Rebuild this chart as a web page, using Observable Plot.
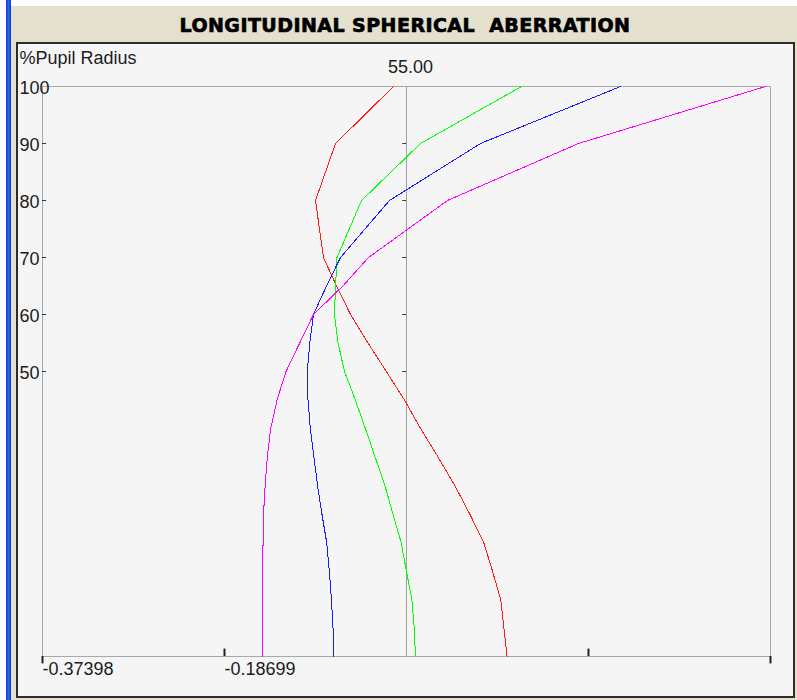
<!DOCTYPE html>
<html>
<head>
<meta charset="utf-8">
<script src="https://cdn.jsdelivr.net/npm/d3@7"></script>
<script src="https://cdn.jsdelivr.net/npm/@observablehq/plot@0.6"></script>
<style>
  html, body { margin: 0; padding: 0; background: #ffffff; }
  #page { position: relative; width: 797px; height: 700px; overflow: hidden; background: #ffffff; }
  #beige { position: absolute; left: 11px; top: 6px; right: 0; bottom: 0; background: #e3e0cd; }
  #bluebar { position: absolute; left: 6px; top: 0; width: 5px; height: 700px;
    background: linear-gradient(to right, #0a36c8, #2f62f2, #0b3ad8); }
  #title { position: absolute; left: 12px; width: 786px; top: 16px; text-align: center;
    font-family: "DejaVu Sans", sans-serif; font-weight: bold; font-size: 19px; line-height: 19px;
    letter-spacing: 0.45px; color: #000; white-space: pre; -webkit-text-stroke: 0.7px #000; }
  #box { position: absolute; left: 16px; top: 42px; width: 775px; height: 652px;
    border: 2px solid #2c2c2c; background: #f5f5f5; }
  #box svg { position: absolute; left: 0; top: 0; overflow: visible; }
</style>
</head>
<body>
<div id="page">
  <div id="beige"></div>
  <div id="bluebar"></div>
  <div id="title">LONGITUDINAL SPHERICAL  ABERRATION</div>
  <div id="box"></div>
</div>
<script>
// % pupil radius (shared by all series)
const pupil = [0, 5, 10, 15, 20, 25, 30, 35, 40, 45, 50, 55, 60, 65, 70, 80, 90, 100];
// longitudinal aberration per wavelength
const red     = [0.1033, 0.1001, 0.0968, 0.0883, 0.0793, 0.0650, 0.0496, 0.0324, 0.0144, -0.0021, -0.0207, -0.0396, -0.0575, -0.0719, -0.0853, -0.0935, -0.0729, -0.0134];
const green   = [0.0092, 0.0080, 0.0055, -0.0001, -0.0055, -0.0139, -0.0222, -0.0322, -0.0423, -0.0526, -0.0637, -0.0703, -0.0740, -0.0729, -0.0714, -0.0462, 0.0144, 0.1181];
const blue    = [-0.0750, -0.0755, -0.0771, -0.0793, -0.0820, -0.0869, -0.0914, -0.0951, -0.0988, -0.1012, -0.1019, -0.0994, -0.0956, -0.0822, -0.0678, -0.0175, 0.0760, 0.2199];
const magenta = [-0.1479, -0.1479, -0.1477, -0.1476, -0.1474, -0.1469, -0.1452, -0.1430, -0.1395, -0.1330, -0.1238, -0.1097, -0.0956, -0.0654, -0.0390, 0.0421, 0.1767, 0.3688];

const seriesNames  = ["wave1", "wave2", "wave3", "wave4"];
const seriesColors = ["#ff1a1a", "#00ff00", "#1a1aff", "#ff00ff"];
const seriesValues = [red, green, blue, magenta];

const xMax = 0.37398;
const xEndTicks = [-0.37398, 0.37398];
const xInnerTicks = [-0.18699, 0.18699];
const xLabelValues = [-0.37398, -0.18699];
const xLabelTexts = ["-0.37398", "-0.18699"];
const yLabelValues = [100, 90, 80, 70, 60, 50];
const yTickValues = [90, 80, 70, 60, 50];
const centerLabel = "55.00";
const yTitle = "%Pupil Radius";

const rows = [];
seriesValues.forEach((vals, i) => {
  vals.forEach((v, j) => rows.push({series: seriesNames[i], x: v, y: pupil[j]}));
});

const font = '"Liberation Sans", Arial, sans-serif';

const chart = Plot.plot({
  width: 775,
  height: 652,
  marginLeft: 24,
  marginRight: 23,
  marginTop: 42,
  marginBottom: 40,
  x: {domain: [-xMax, xMax], axis: null},
  y: {domain: [0, 100], axis: null},
  color: {type: "ordinal", domain: seriesNames, range: seriesColors},
  style: {background: "transparent", fontFamily: font, overflow: "visible"},
  marks: [
    Plot.frame({stroke: "#a8a8a8", strokeWidth: 1}),
    Plot.ruleX([0], {stroke: "#a0a0a0", strokeWidth: 1}),
    // ticks on left axis (inward)
    Plot.ruleY(yTickValues, {y: d => d, x1: -xMax, x2: -xMax + 0.0042, stroke: "#333", strokeWidth: 1}),
    // ticks on center line (to the left)
    Plot.ruleY(yTickValues, {y: d => d, x1: -0.0038, x2: 0, stroke: "#333", strokeWidth: 1}),
    // bottom ticks
    Plot.ruleX(xInnerTicks, {x: d => d, y1: 0, y2: 1.3, stroke: "#222", strokeWidth: 2}),
    Plot.ruleX(xEndTicks, {x: d => d, y1: 0, y2: -1.3, stroke: "#222", strokeWidth: 2, clip: false}),
    Plot.line(rows, {x: "x", y: "y", z: "series", stroke: "series", strokeWidth: 1, curve: "linear",
      shapeRendering: "crispEdges"}),
    Plot.text(yLabelValues, {y: d => d, text: d => String(d), frameAnchor: "left", dx: -23, dy: 1.5,
      textAnchor: "start", lineAnchor: "middle", fontSize: 18, fill: "#1c1c1c"}),
    Plot.text(xLabelValues, {x: d => d, text: (d, i) => xLabelTexts[i], frameAnchor: "bottom", dx: 0, dy: 18,
      textAnchor: "start", lineAnchor: "bottom", fontSize: 18, fill: "#1c1c1c"}),
    Plot.text([centerLabel], {x: () => 0, text: d => d, frameAnchor: "top", dx: 4, dy: -14,
      textAnchor: "middle", lineAnchor: "bottom", fontSize: 18, fill: "#1c1c1c"}),
    Plot.text([yTitle], {text: d => d, frameAnchor: "top-left", dx: -23, dy: -23,
      textAnchor: "start", lineAnchor: "bottom", fontSize: 18, fill: "#1c1c1c", style: "letter-spacing:1px"})
  ]
});
document.getElementById("box").appendChild(chart);
</script>
</body>
</html>
